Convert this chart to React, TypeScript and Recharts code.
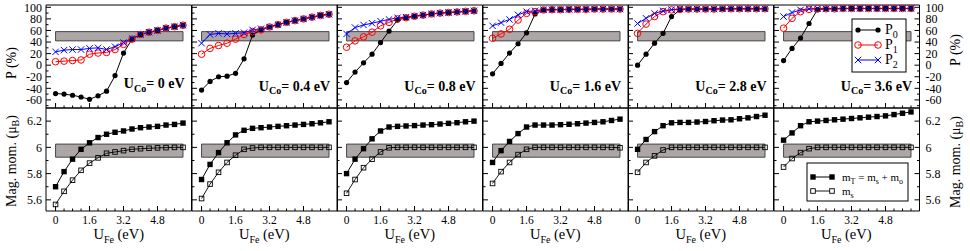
import React from 'react';
import { LineChart, Line, XAxis, YAxis, ReferenceArea } from 'recharts';

const FONT = "'Liberation Serif', 'Times New Roman', serif";

// ---------- data ----------
const U_FE = [0, 0.4, 0.8, 1.2, 1.6, 2.0, 2.4, 2.8, 3.2, 3.6, 4.0, 4.4, 4.8, 5.2, 5.6, 6.0];
const U_CO_LABELS = ['0', '0.4', '0.8', '1.6', '2.8', '3.6'];

const P0_SETS = [
  [-49, -50, -52, -55, -59, -53, -45, -18, 21, 45, 53, 57, 60, 64, 66.5, 69],
  [-43, -28, -20, -19, -14, 11, 52, 61, 66, 70, 74, 77, 80, 83, 86, 88],
  [-30, -12, 4, 19, 39, 59, 78, 82, 84.5, 86.5, 88.5, 90, 91, 92, 93, 94],
  [-15, 3, 21, 37, 56, 88.5, 95.5, 96, 96, 96.5, 96.5, 96.5, 97, 97, 97, 97],
  [0, 19, 38, 55, 84, 95.5, 97, 97, 97, 97, 97.5, 97.5, 97.5, 97.5, 97.5, 97.5],
  [8, 29, 47, 72, 96, 97.5, 97.5, 98, 98, 98, 98, 98, 98, 98, 98, 98],
];
const P1_SETS = [
  [6, 7, 8, 9, 19, 21, 22, 27, 36, 45, 53, 57, 60, 64, 66.5, 69],
  [19, 29, 34, 38, 45, 53, 58, 61, 66, 70, 74, 77, 80, 83, 86, 88],
  [31, 42, 49, 57, 68, 74, 80, 82, 84.5, 86.5, 88.5, 90, 91, 92, 93, 94],
  [46.5, 54, 62, 78, 89.5, 92.5, 95.5, 96, 96, 96.5, 96.5, 96.5, 97, 97, 97, 97],
  [55, 71, 84, 92.5, 95.5, 96.5, 97, 97, 97, 97, 97.5, 97.5, 97.5, 97.5, 97.5, 97.5],
  [64, 81, 92.5, 96.5, 97.5, 97.5, 97.5, 98, 98, 98, 98, 98, 98, 98, 98, 98],
];
const P2_SETS = [
  [23, 26, 27, 27, 29, 30, 27, 32, 39, 46, 53, 57, 60, 64, 66.5, 69],
  [38, 53, 55, 54, 55, 56, 61, 63, 66, 70, 74, 77, 80, 83, 86, 88],
  [54, 65, 69.5, 72.5, 76, 79, 82, 83, 85, 86.5, 88.5, 90, 91, 92, 93, 94],
  [68, 73.5, 79, 87, 92.5, 94, 96, 96, 96, 96.5, 96.5, 96.5, 97, 97, 97, 97],
  [72, 81, 89.5, 94, 96, 97, 97, 97, 97, 97, 97.5, 97.5, 97.5, 97.5, 97.5, 97.5],
  [84, 91, 95.5, 97.5, 97.5, 97.5, 97.5, 98, 98, 98, 98, 98, 98, 98, 98, 98],
];

const MT_SETS = [
  [5.70, 5.815, 5.91, 5.985, 6.035, 6.075, 6.10, 6.115, 6.125, 6.14, 6.15, 6.155, 6.16, 6.17, 6.175, 6.185],
  [5.755, 5.87, 5.96, 6.035, 6.095, 6.13, 6.145, 6.15, 6.155, 6.16, 6.165, 6.17, 6.175, 6.18, 6.187, 6.195],
  [5.80, 5.91, 5.99, 6.065, 6.125, 6.155, 6.16, 6.163, 6.166, 6.17, 6.173, 6.178, 6.183, 6.188, 6.195, 6.2],
  [5.885, 5.975, 6.045, 6.105, 6.155, 6.17, 6.17, 6.17, 6.173, 6.176, 6.18, 6.185, 6.19, 6.195, 6.205, 6.215],
  [5.985, 6.06, 6.12, 6.165, 6.187, 6.19, 6.19, 6.193, 6.197, 6.203, 6.208, 6.21, 6.218, 6.225, 6.235, 6.245],
  [6.055, 6.11, 6.165, 6.195, 6.2, 6.205, 6.21, 6.215, 6.22, 6.225, 6.23, 6.235, 6.24, 6.25, 6.26, 6.27],
];
const MS_SETS = [
  [5.565, 5.665, 5.75, 5.825, 5.88, 5.92, 5.955, 5.965, 5.975, 5.985, 5.99, 5.993, 5.996, 5.998, 6.0, 6.0],
  [5.61, 5.72, 5.81, 5.885, 5.94, 5.985, 5.995, 6.0, 6.0, 6.0, 6.0, 6.0, 6.0, 6.0, 6.0, 6.0],
  [5.65, 5.755, 5.845, 5.91, 5.965, 5.997, 6.0, 6.0, 6.0, 6.0, 6.0, 6.0, 6.0, 6.0, 6.0, 6.0],
  [5.725, 5.815, 5.885, 5.945, 5.985, 6.0, 6.0, 6.0, 6.0, 6.0, 6.0, 6.0, 6.0, 6.0, 6.0, 5.997],
  [5.81, 5.885, 5.935, 5.98, 6.0, 6.0, 6.0, 6.0, 6.0, 6.0, 6.0, 6.0, 6.0, 6.0, 6.0, 6.0],
  [5.85, 5.915, 5.96, 5.99, 6.0, 6.0, 6.0, 6.0, 6.0, 6.0, 6.0, 6.0, 6.0, 6.0, 6.0, 6.0],
];

const X_TICKS = [0, 0.4, 0.8, 1.2, 1.6, 2.0, 2.4, 2.8, 3.2, 3.6, 4.0, 4.4, 4.8, 5.2, 5.6, 6.0];
const X_MAJOR = [0, 1.6, 3.2, 4.8];
const X_LABELS = ['0', '1.6', '3.2', '4.8'];

const P_TICKS = [-70, -60, -50, -40, -30, -20, -10, 0, 10, 20, 30, 40, 50, 60, 70, 80, 90, 100];
const P_MAJOR = [-60, -40, -20, 0, 20, 40, 60, 80, 100];
const P_LABELS = ['-60', '-40', '-20', '0', '20', '40', '60', '80', '100'];

const M_TICKS = [5.6, 5.7, 5.8, 5.9, 6.0, 6.1, 6.2];
const M_MAJOR = [5.6, 5.8, 6.0, 6.2];
const M_LABELS = ['5.6', '5.8', '6', '6.2'];

const P_BAND = [42, 58];
const M_BAND = [5.925, 6.025];
const BAND_X = [0, 6.0];

// ---------- layout ----------
const PLOT_LEFT = 46;
const PLOT_W = 145.5;
const PLOT_H = 103;
const TOP_Y = 5;
const MID_Y = 108;
const X_DOMAIN = [-0.45, 6.4];
const P_DOMAIN = [-74, 104];
const M_DOMAIN = [5.515, 6.3];

const near = (a: number, b: number) => Math.abs(a - b) < 1e-6;
const majorIndex = (v: number, arr: number[]) => arr.findIndex((m) => near(m, v));

const txt = { fontFamily: FONT, fill: '#000' } as const;

function makeXTick(showLabels: boolean) {
  return (props: any) => {
    const { x, y, payload } = props;
    const mi = majorIndex(payload.value, X_MAJOR);
    const len = mi >= 0 ? 5 : 2.5;
    return (
      <g>
        <line x1={x} x2={x} y1={y} y2={y - len} stroke="#000" strokeWidth={1} />
        {showLabels && mi >= 0 ? (
          <text x={x} y={y + 13} textAnchor="middle" fontSize={11.5} {...txt}>
            {X_LABELS[mi]}
          </text>
        ) : null}
      </g>
    );
  };
}

function makeYTick(side: 'left' | 'right', showLabels: boolean, major: number[], labels: string[]) {
  return (props: any) => {
    const { x, y, payload } = props;
    const mi = majorIndex(payload.value, major);
    const len = mi >= 0 ? 5 : 2.5;
    const dir = side === 'left' ? 1 : -1;
    return (
      <g>
        <line x1={x} x2={x + dir * len} y1={y} y2={y} stroke="#000" strokeWidth={1} />
        {showLabels && mi >= 0 ? (
          <text
            x={side === 'left' ? x - 4 : x + 6}
            y={y}
            dy="0.35em"
            textAnchor={side === 'left' ? 'end' : 'start'}
            fontSize={12}
            {...txt}
          >
            {labels[mi]}
          </text>
        ) : null}
      </g>
    );
  };
}

const emptyTick = () => <g />;

// ---------- markers ----------
const DotP0 = (p: any) => (p.cx == null ? <g /> : <circle cx={p.cx} cy={p.cy} r={2.6} fill="#000" />);
const DotP1 = (p: any) =>
  p.cx == null ? <g /> : <circle cx={p.cx} cy={p.cy} r={3.3} fill="none" stroke="#ff0000" strokeWidth={1} />;
const DotP2 = (p: any) =>
  p.cx == null ? (
    <g />
  ) : (
    <g stroke="#0000ff" strokeWidth={1}>
      <line x1={p.cx - 3.2} y1={p.cy - 3.2} x2={p.cx + 3.2} y2={p.cy + 3.2} />
      <line x1={p.cx - 3.2} y1={p.cy + 3.2} x2={p.cx + 3.2} y2={p.cy - 3.2} />
    </g>
  );
const DotMT = (p: any) =>
  p.cx == null ? <g /> : <rect x={p.cx - 2.7} y={p.cy - 2.7} width={5.4} height={5.4} fill="#000" />;
const DotMS = (p: any) =>
  p.cx == null ? (
    <g />
  ) : (
    <rect x={p.cx - 2.3} y={p.cy - 2.3} width={4.6} height={4.6} fill="none" stroke="#000" strokeWidth={0.9} />
  );

function Panel({ col, row }: { col: number; row: number }) {
  const left = PLOT_LEFT + col * PLOT_W;
  const top = row === 0 ? TOP_Y : MID_Y;
  const ml = col === 0 ? 46 : 3;
  const mr = col === 5 ? 50 : 3;
  const mt = 3;
  const mb = row === 1 ? 40 : 3;
  const isTop = row === 0;
  const data = U_FE.map((u, i) =>
    isTop
      ? { u, p0: P0_SETS[col][i], p1: P1_SETS[col][i], p2: P2_SETS[col][i] }
      : { u, mt: MT_SETS[col][i], ms: MS_SETS[col][i] }
  );
  const yDomain = isTop ? P_DOMAIN : M_DOMAIN;
  const yTicks = isTop ? P_TICKS : M_TICKS;
  const yMajor = isTop ? P_MAJOR : M_MAJOR;
  const yLabels = isTop ? P_LABELS : M_LABELS;
  const band = isTop ? P_BAND : M_BAND;
  const axisLine = { stroke: '#000', strokeWidth: 1 };
  // each axis occupies 1px of the margin (axes of size 0 are not drawn)
  return (
    <div style={{ position: 'absolute', left: left - ml, top: top - mt }}>
      <LineChart
        width={PLOT_W + ml + mr}
        height={PLOT_H + mt + mb}
        data={data}
        margin={{ top: mt - 1, right: mr - 1, bottom: mb - 1, left: ml - 1 }}
      >
        <XAxis
          dataKey="u"
          type="number"
          domain={X_DOMAIN}
          ticks={X_TICKS}
          interval={0}
          height={1}
          tickSize={0}
          tickMargin={0}
          tickLine={false}
          axisLine={axisLine}
          tick={makeXTick(!isTop)}
          allowDataOverflow
        />
        <XAxis
          xAxisId="top"
          orientation="top"
          type="number"
          domain={X_DOMAIN}
          ticks={X_TICKS}
          height={1}
          tickSize={0}
          tickMargin={0}
          tick={emptyTick}
          tickLine={false}
          axisLine={axisLine}
          allowDataOverflow
        />
        <YAxis
          type="number"
          domain={yDomain}
          ticks={yTicks}
          interval={0}
          width={1}
          tickSize={0}
          tickMargin={0}
          tickLine={false}
          axisLine={axisLine}
          tick={makeYTick('left', col === 0, yMajor, yLabels)}
          allowDataOverflow
        />
        <YAxis
          yAxisId="right"
          orientation="right"
          type="number"
          domain={yDomain}
          ticks={yTicks}
          interval={0}
          width={1}
          tickSize={0}
          tickMargin={0}
          tickLine={false}
          axisLine={axisLine}
          tick={col === 5 ? makeYTick('right', true, yMajor, yLabels) : emptyTick}
          allowDataOverflow
        />
        <ReferenceArea
          x1={BAND_X[0]}
          x2={BAND_X[1]}
          y1={band[0]}
          y2={band[1]}
          fill="#aca6a6"
          fillOpacity={1}
          stroke="#3a3a3a"
          strokeWidth={0.9}
        />
        {isTop ? (
          <>
            <Line dataKey="p0" type="linear" stroke="#000" strokeWidth={1} dot={DotP0} activeDot={false} isAnimationActive={false} />
            <Line dataKey="p1" type="linear" stroke="#ff0000" strokeWidth={1} dot={DotP1} activeDot={false} isAnimationActive={false} />
            <Line dataKey="p2" type="linear" stroke="#0000ff" strokeWidth={1} dot={DotP2} activeDot={false} isAnimationActive={false} />
          </>
        ) : (
          <>
            <Line dataKey="ms" type="linear" stroke="#000" strokeWidth={0.9} dot={DotMS} activeDot={false} isAnimationActive={false} />
            <Line dataKey="mt" type="linear" stroke="#000" strokeWidth={1} dot={DotMT} activeDot={false} isAnimationActive={false} />
          </>
        )}
      </LineChart>
    </div>
  );
}

function Overlay() {
  const cols = [0, 1, 2, 3, 4, 5];
  return (
    <svg
      width={970}
      height={251}
      style={{ position: 'absolute', left: 0, top: 0, pointerEvents: 'none', overflow: 'visible' }}
    >
      {/* U_Co annotations */}
      {cols.map((c) => {
        const right = PLOT_LEFT + (c + 1) * PLOT_W - 7;
        const base = c === 0 ? 88 : 90.5;
        return (
          <text key={'uco' + c} x={right} y={base} textAnchor="end" fontSize={14} fontWeight="bold" {...txt}>
            U
            <tspan dy={3.5} fontSize={10}>Co</tspan>
            <tspan dy={-3.5}>= {U_CO_LABELS[c]} eV</tspan>
          </text>
        );
      })}
      {/* x titles */}
      {cols.map((c) => {
        const cx = PLOT_LEFT + (c + 0.5) * PLOT_W;
        return (
          <text key={'xt' + c} x={cx} y={239} textAnchor="middle" fontSize={14.5} {...txt}>
            U
            <tspan dy={4} fontSize={10}>Fe</tspan>
            <tspan dy={-4}> (eV)</tspan>
          </text>
        );
      })}
      {/* y titles */}
      <text x={11} y={63} transform="rotate(-90 11 63)" textAnchor="middle" dominantBaseline="central" fontSize={14} {...txt}>
        P (%)
      </text>
      <text x={11} y={161} transform="rotate(-90 11 161)" textAnchor="middle" dominantBaseline="central" fontSize={14} {...txt}>
        Mag. mom. (μ<tspan dy={3.5} fontSize={10}>B</tspan><tspan dy={-3.5}>)</tspan>
      </text>
      <text x={955} y={50} transform="rotate(-90 955 50)" textAnchor="middle" dominantBaseline="central" fontSize={14} {...txt}>
        P (%)
      </text>
      <text x={955} y={162} transform="rotate(-90 955 162)" textAnchor="middle" dominantBaseline="central" fontSize={14} {...txt}>
        Mag. mom. (μ<tspan dy={3.5} fontSize={10}>B</tspan><tspan dy={-3.5}>)</tspan>
      </text>

      {/* top legend */}
      <rect x={852} y={19} width={54} height={53} fill="#fff" stroke="#000" strokeWidth={1} />
      {[
        { y: 30, color: '#000', kind: 0, sub: '0' },
        { y: 45, color: '#ff0000', kind: 1, sub: '1' },
        { y: 60, color: '#0000ff', kind: 2, sub: '2' },
      ].map((e) => (
        <g key={'lg' + e.sub}>
          <line x1={858} x2={878} y1={e.y} y2={e.y} stroke={e.color} strokeWidth={1} />
          {[858, 878].map((mx) =>
            e.kind === 0 ? (
              <circle key={mx} cx={mx} cy={e.y} r={2.6} fill="#000" />
            ) : e.kind === 1 ? (
              <circle key={mx} cx={mx} cy={e.y} r={3.3} fill="none" stroke="#ff0000" />
            ) : (
              <g key={mx} stroke="#0000ff">
                <line x1={mx - 3.2} y1={e.y - 3.2} x2={mx + 3.2} y2={e.y + 3.2} />
                <line x1={mx - 3.2} y1={e.y + 3.2} x2={mx + 3.2} y2={e.y - 3.2} />
              </g>
            )
          )}
          <text x={885} y={e.y + 4} fontSize={14} {...txt}>
            P<tspan dy={4} fontSize={10}>{e.sub}</tspan>
          </text>
        </g>
      ))}

      {/* bottom legend */}
      <rect x={807} y={163} width={101} height={38} fill="#fff" stroke="#000" strokeWidth={1} />
      <line x1={813} x2={832} y1={177} y2={177} stroke="#000" />
      <rect x={810.3} y={174.3} width={5.4} height={5.4} fill="#000" />
      <rect x={829.3} y={174.3} width={5.4} height={5.4} fill="#000" />
      <text x={842} y={180.5} fontSize={11} {...txt}>
        m<tspan dy={3} fontSize={8}>T</tspan>
        <tspan dy={-3}> = m</tspan>
        <tspan dy={3} fontSize={8}>s</tspan>
        <tspan dy={-3}> + m</tspan>
        <tspan dy={3} fontSize={8}>o</tspan>
      </text>
      <line x1={813} x2={832} y1={191} y2={191} stroke="#000" strokeWidth={0.9} />
      <rect x={810.7} y={188.7} width={4.6} height={4.6} fill="#fff" stroke="#000" strokeWidth={0.9} />
      <rect x={829.7} y={188.7} width={4.6} height={4.6} fill="#fff" stroke="#000" strokeWidth={0.9} />
      <text x={842} y={194.5} fontSize={11} {...txt}>
        m<tspan dy={3} fontSize={8}>s</tspan>
      </text>
    </svg>
  );
}

export default function App() {
  const cols = [0, 1, 2, 3, 4, 5];
  return (
    <div style={{ position: 'absolute', left: 0, top: 0, width: 970, height: 251, background: '#fff', overflow: 'hidden' }}>
      {cols.map((c) => (
        <Panel key={'t' + c} col={c} row={0} />
      ))}
      {cols.map((c) => (
        <Panel key={'b' + c} col={c} row={1} />
      ))}
      <Overlay />
    </div>
  );
}
